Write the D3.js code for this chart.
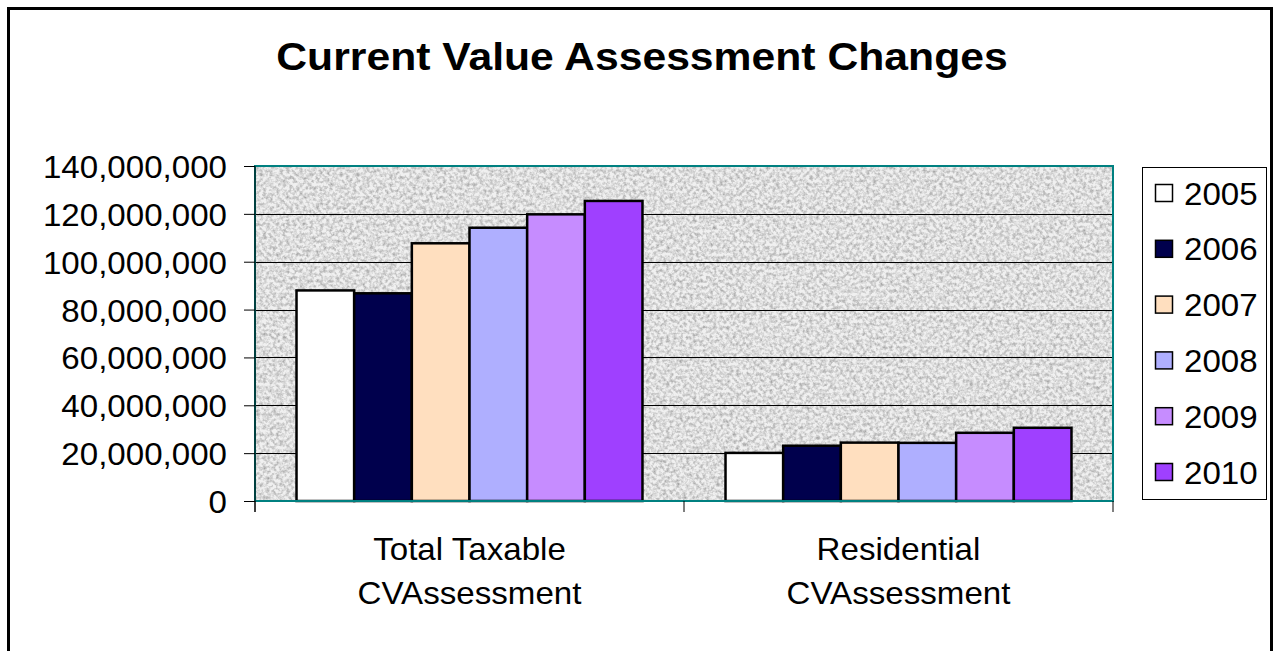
<!DOCTYPE html>
<html>
<head>
<meta charset="utf-8">
<script src="https://cdn.jsdelivr.net/npm/d3@7"></script>
<style>
  body { margin: 0; background: #fff; }
  svg { display: block; font-family: Arial, "Liberation Sans", sans-serif; }
</style>
</head>
<body>
<div id="chart"></div>
<script>
// chart data
const categories = [["Total Taxable", "CVAssessment"], ["Residential", "CVAssessment"]];
const years = ["2005", "2006", "2007", "2008", "2009", "2010"];
const totalTaxable = [88000000, 86800000, 107700000, 114200000, 119800000, 125400000];
const residential = [20100000, 23100000, 24400000, 24300000, 28500000, 30600000];
const yTicks = [0, 20000000, 40000000, 60000000, 80000000, 100000000, 120000000, 140000000];
const colors = ["#ffffff", "#00004d", "#ffdfbf", "#afafff", "#c68cff", "#9f40ff"];

const width = 1276;
const height = 651;
// text in the original is a touch wider than plain Arial
const stretch = 1.035;

const plot = { left: 255, right: 1113, top: 166, bottom: 501 };

const svg = d3.select("#chart")
    .append("svg")
    .attr("width", width)
    .attr("height", height);

// grainy grey background, like the old office fill
const defs = svg.append("defs");
const grain = defs.append("filter")
    .attr("id", "grain")
    .attr("x", 0).attr("y", 0).attr("width", "100%").attr("height", "100%");
grain.append("feTurbulence")
    .attr("type", "fractalNoise")
    .attr("baseFrequency", 0.3)
    .attr("numOctaves", 3)
    .attr("seed", 7);
grain.append("feColorMatrix")
    .attr("type", "matrix")
    .attr("values", "0 0 0 0 0  0 0 0 0 0  0 0 0 0 0  0.6 0 0 0 -0.22");

// outer frame
svg.append("rect")
    .attr("x", 8.5).attr("y", 8.5)
    .attr("width", 1263).attr("height", 660)
    .attr("fill", "none")
    .attr("stroke", "#000")
    .attr("stroke-width", 3);

// title
svg.append("text")
    .attr("transform", `translate(642,70) scale(1.095,1)`)
    .attr("text-anchor", "middle")
    .style("font-size", "39px")
    .style("font-weight", "bold")
    .text("Current Value Assessment Changes");

const y = d3.scaleLinear()
    .domain([0, 140000000])
    .range([plot.bottom, plot.top]);

const x0 = d3.scaleBand()
    .domain(d3.range(categories.length))
    .range([plot.left, plot.right]);

const x1 = d3.scaleBand()
    .domain(years)
    .range([0, x0.bandwidth()])
    .paddingInner(0)
    .paddingOuter(0.72);

const color = d3.scaleOrdinal().domain(years).range(colors);

// plot background
svg.append("rect")
    .attr("x", plot.left).attr("y", plot.top)
    .attr("width", plot.right - plot.left)
    .attr("height", plot.bottom - plot.top)
    .attr("fill", "#f0f0f0");
svg.append("rect")
    .attr("x", plot.left).attr("y", plot.top)
    .attr("width", plot.right - plot.left)
    .attr("height", plot.bottom - plot.top)
    .attr("filter", "url(#grain)");

// gridlines
svg.append("g")
    .selectAll("line")
    .data(yTicks.slice(1, -1))
    .join("line")
    .attr("x1", plot.left).attr("x2", plot.right)
    .attr("y1", d => Math.round(y(d)) + 0.5)
    .attr("y2", d => Math.round(y(d)) + 0.5)
    .attr("stroke", "#000")
    .attr("stroke-width", 1);

// bars
const series = [totalTaxable, residential];
svg.append("g")
    .selectAll("g")
    .data(series)
    .join("g")
    .attr("transform", (d, i) => `translate(${x0(i)},0)`)
    .selectAll("rect")
    .data(d => d.map((v, j) => ({ year: years[j], value: v })))
    .join("rect")
    .attr("x", d => x1(d.year))
    .attr("y", d => y(d.value))
    .attr("width", x1.bandwidth())
    .attr("height", d => y(0) - y(d.value))
    .attr("fill", d => color(d.year))
    .attr("stroke", "#000")
    .attr("stroke-width", 2.5);

// plot border (teal)
svg.append("rect")
    .attr("x", plot.left).attr("y", plot.top)
    .attr("width", plot.right - plot.left)
    .attr("height", plot.bottom - plot.top)
    .attr("fill", "none")
    .attr("stroke", "#008080")
    .attr("stroke-width", 2);

// y axis
const yAxis = d3.axisLeft(y)
    .tickValues(yTicks)
    .tickFormat(d3.format(","))
    .tickSize(11)
    .tickSizeOuter(0);

const yG = svg.append("g")
    .attr("transform", `translate(${plot.left},0)`)
    .call(yAxis);
yG.select(".domain").attr("stroke", "#000").attr("d", `M0,${plot.top}V${plot.bottom + 11}`);
yG.selectAll(".tick line").attr("stroke", "#000");
yG.selectAll(".tick text")
    .attr("x", null)
    .attr("dy", "0.36em")
    .attr("transform", `translate(-28,0) scale(${stretch},1)`)
    .attr("fill", "#000")
    .style("font-size", "32px")
    .style("font-family", "Arial, 'Liberation Sans', sans-serif");

// x axis ticks at category boundaries
svg.append("g")
    .selectAll("line")
    .data(d3.range(categories.length + 1))
    .join("line")
    .attr("x1", i => plot.left + i * x0.step())
    .attr("x2", i => plot.left + i * x0.step())
    .attr("y1", plot.bottom)
    .attr("y2", plot.bottom + 11)
    .attr("stroke", "#000");

// category labels
svg.append("g")
    .selectAll("text")
    .data(categories)
    .join("text")
    .attr("transform", (d, i) => `translate(${x0(i) + x0.bandwidth() / 2},560) scale(${stretch},1)`)
    .attr("text-anchor", "middle")
    .style("font-size", "32px")
    .selectAll("tspan")
    .data(d => d)
    .join("tspan")
    .attr("x", 0)
    .attr("y", (d, i) => i * 44)
    .text(d => d);

// legend
const legend = svg.append("g").attr("transform", "translate(1142,167)");
legend.append("rect")
    .attr("x", 0.5).attr("y", 0.5)
    .attr("width", 124).attr("height", 332)
    .attr("fill", "#fff")
    .attr("stroke", "#000");

const item = legend.selectAll(".item")
    .data(years)
    .join("g")
    .attr("class", "item")
    .attr("transform", (d, i) => `translate(0,${26 + i * 55.8})`);
item.append("rect")
    .attr("x", 13.5).attr("y", -8.5)
    .attr("width", 17).attr("height", 17)
    .attr("fill", d => color(d))
    .attr("stroke", "#000")
    .attr("stroke-width", 1.5);
item.append("text")
    .attr("transform", `translate(42,0) scale(${stretch},1)`)
    .attr("dy", "0.36em")
    .style("font-size", "32px")
    .text(d => d);
</script>
</body>
</html>
